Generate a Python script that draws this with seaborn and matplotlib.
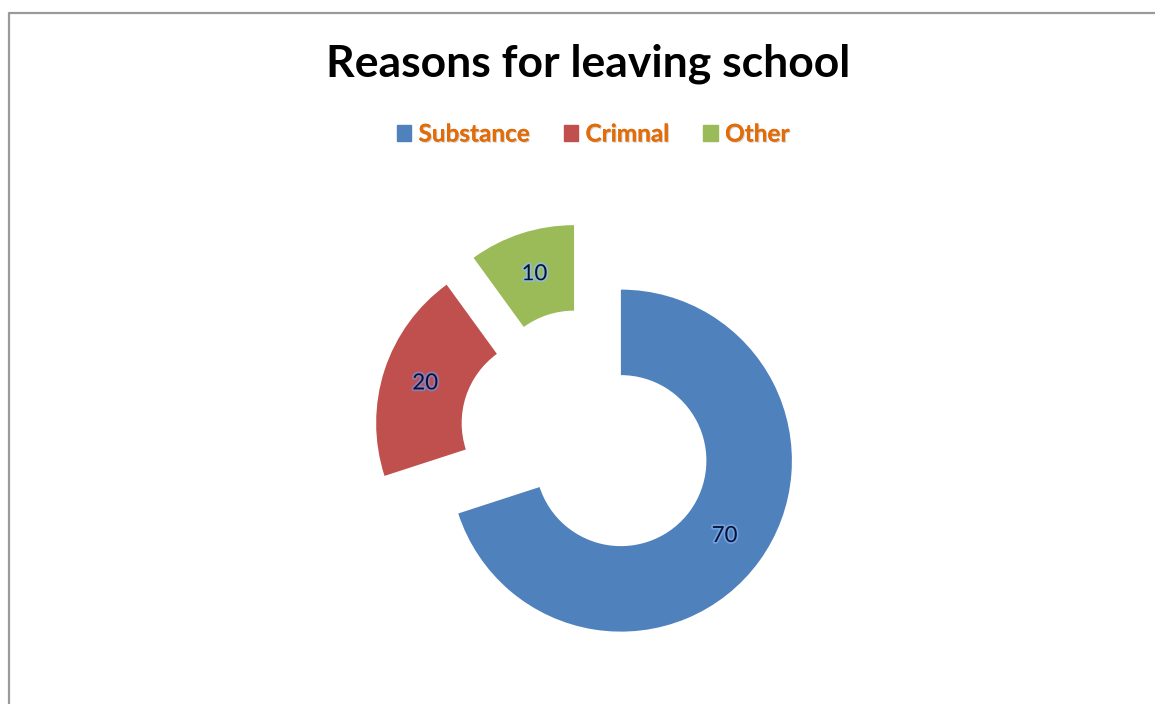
import matplotlib
matplotlib.use("Agg")
import matplotlib.pyplot as plt
import matplotlib.patches as mpatches
import matplotlib.patheffects as pe
from matplotlib.lines import Line2D
import seaborn as sns

# data
reasons = ["Substance", "Crimnal", "Other"]
counts = [70, 20, 10]
colors = ["#4F81BD", "#C0504D", "#9BBB59"]
glow = ["#6FA0E0", "#8A7DB8", "#8FBCD0"]

sns.set_theme(style="white")
plt.rcParams["font.family"] = ["Lato", "DejaVu Sans"]

W, H = 1155, 704
fig = plt.figure(figsize=(W / 100, H / 100), dpi=100)
ax = fig.add_axes([0, 0, 1, 1])

# pie centre in pixels and radius
cx, cy, R = 587, 436, 171

wedges, texts, autotexts = ax.pie(
    counts, colors=colors, startangle=90, counterclock=False,
    explode=[0.245] * 3, radius=1, center=(0, 0),
    wedgeprops=dict(width=0.5, linewidth=0),
    autopct=lambda p: f"{p:.0f}", pctdistance=0.75,
    textprops=dict(fontsize=16, color="#0B1030"),
    frame=False,
)
ax.set_xlim(-cx / R, (W - cx) / R)
ax.set_ylim(-(H - cy) / R, cy / R)
ax.set_aspect("auto")
ax.axis("off")
for t, g in zip(autotexts, glow):
    t.set_path_effects([pe.withStroke(linewidth=2.5, foreground=g)])

fig.text(588 / W, 1 - 64 / H, "Reasons for leaving school", ha="center", va="center",
         fontsize=32, fontweight="bold", color="black")

handles = [mpatches.Patch(color=c, label=r) for c, r in zip(colors, reasons)]
leg = fig.legend(handles=handles, loc="center", bbox_to_anchor=(593 / W, 1 - 134 / H),
                 ncol=3, frameon=False, handlelength=0.6, handleheight=0.6,
                 handletextpad=0.3, columnspacing=1.4,
                 prop=dict(size=17.5, weight="bold"))
for t in leg.get_texts():
    t.set_color("#E36C09")
    t.set_path_effects([pe.withSimplePatchShadow(offset=(0.8, -0.8), shadow_rgbFace="#B0B0B0", alpha=0.6), pe.Normal()])

# chart frame (left and top edges)
fig.add_artist(Line2D([8.5 / W, 8.5 / W, 1], [0, 1 - 12.5 / H, 1 - 12.5 / H],
                      transform=fig.transFigure, color="#9A9A9A", linewidth=1.6))

fig.savefig("out.png", dpi=100)
